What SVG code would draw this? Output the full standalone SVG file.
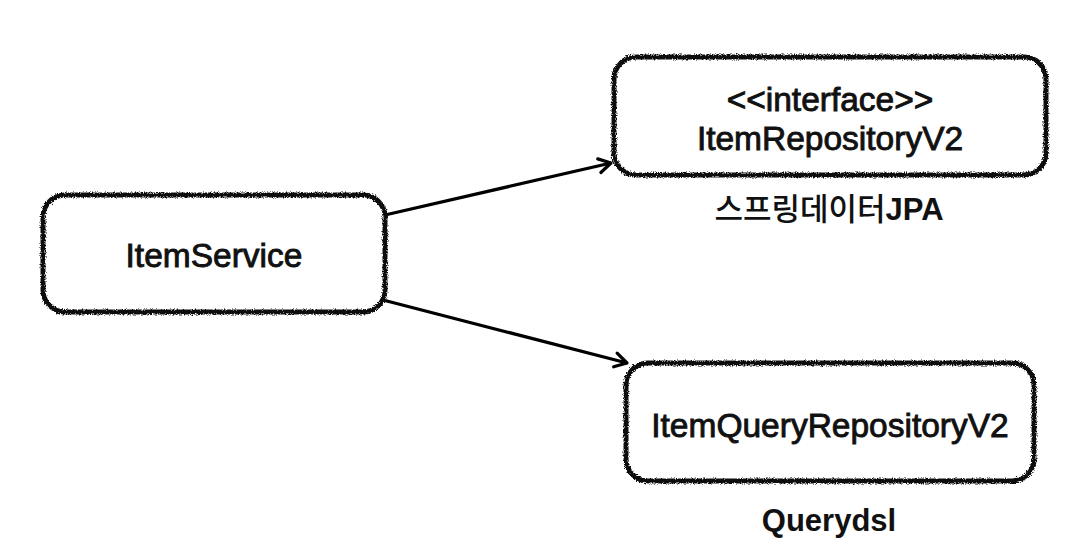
<svg xmlns="http://www.w3.org/2000/svg" width="1085" height="543" viewBox="0 0 1085 543">
<style>
.box{fill:#fff;stroke:#111;stroke-width:5;filter:url(#rough)}
.t{font-family:"Liberation Sans",Arial,sans-serif;font-size:33.5px;fill:#111;text-anchor:middle;stroke:#111;stroke-width:0.9}
.lbl{font-family:"Liberation Sans","Noto Sans CJK KR",sans-serif;font-size:31px;font-weight:bold;fill:#111;text-anchor:middle}
.kr{font-family:"Noto Sans CJK KR",sans-serif;font-weight:500}
.c{fill:none;stroke:#000;stroke-width:3.2}
</style>
<defs>
<filter id="rough" x="-5%" y="-5%" width="110%" height="110%">
<feTurbulence type="fractalNoise" baseFrequency="0.9" numOctaves="2" seed="3" result="n"/>
<feDisplacementMap in="SourceGraphic" in2="n" scale="4.5" xChannelSelector="R" yChannelSelector="G"/>
</filter>
<marker id="arr" markerWidth="20" markerHeight="20" refX="14" refY="8" orient="auto" markerUnits="userSpaceOnUse" viewBox="0 0 20 16">
<path d="M2,1 L14,8 L2,15" fill="none" stroke="#000" stroke-width="3.2" stroke-linecap="round" stroke-linejoin="round"/>
</marker>
</defs>
<rect width="1085" height="543" fill="#fff"/>
<g id="connectors">
<line class="c" x1="385" y1="215" x2="611" y2="163" marker-end="url(#arr)"/>
<line class="c" x1="383" y1="300" x2="627" y2="363" marker-end="url(#arr)"/>
</g>
<g id="itemService">
<rect class="box" x="43" y="195" width="342" height="117" rx="22"/>
<text class="t" x="214" y="267">ItemService</text>
</g>
<g id="itemRepositoryV2">
<rect class="box" x="614" y="57" width="432" height="118" rx="22"/>
<text class="t" x="830" y="111">&lt;&lt;interface&gt;&gt;</text>
<text class="t" x="830" y="150">ItemRepositoryV2</text>
</g>
<g id="label-jpa">
<text class="lbl" x="829" y="220"><tspan class="kr">스프링데이터</tspan>JPA</text>
</g>
<g id="itemQueryRepositoryV2">
<rect class="box" x="626" y="363" width="408" height="118" rx="22"/>
<text class="t" x="830" y="437">ItemQueryRepositoryV2</text>
</g>
<g id="label-querydsl">
<text class="lbl" x="829" y="531">Querydsl</text>
</g>
</svg>
